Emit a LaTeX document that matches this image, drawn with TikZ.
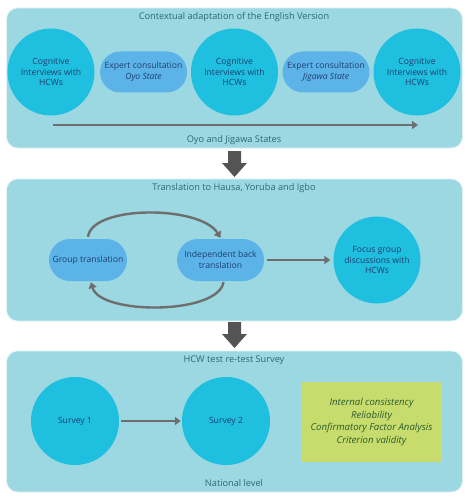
\documentclass[tikz,border=0pt]{standalone}
\usepackage{fontspec}
\setmainfont{Open Sans}
\usetikzlibrary{arrows.meta,calc,shapes.misc}
\definecolor{panelbg}{HTML}{9BD8E1}
\definecolor{circ}{HTML}{1FBFDF}
\definecolor{pill}{HTML}{5CB3E8}
\definecolor{ttl}{HTML}{2C6A74}
\definecolor{txt}{HTML}{1E3F70}
\definecolor{grn}{HTML}{C7DC6C}
\definecolor{grntxt}{HTML}{2D5C2F}
\definecolor{arr}{HTML}{6E6E6E}
\definecolor{bigarr}{HTML}{545454}
\tikzset{
  panel/.style={fill=panelbg,draw=white!70!panelbg,line width=0.8pt,rounded corners=11pt},
  ttltext/.style={text=ttl,font=\fontsize{9.2}{11}\selectfont},
  circnode/.style={circle,fill=circ,minimum size=87pt,inner sep=0pt,align=center,text=txt,font=\fontsize{8.6}{10.6}\selectfont},
  pillnode/.style={rounded rectangle,fill=pill,minimum width=89pt,minimum height=41pt,inner sep=1pt,align=center,text=txt,font=\fontsize{8.6}{10.6}\selectfont},
  conn/.style={draw=arr,line width=1.6pt,-{Triangle[length=6pt,width=8pt]}},
  curv/.style={draw=arr,line width=2.4pt,-{Triangle[length=6pt,width=8pt]}},
  bigarrow/.style={fill=bigarr,draw=none}
}
\begin{document}
\begin{tikzpicture}[x=1pt,y=-1pt]
\useasboundingbox (0,0) rectangle (467,500);
% panel 1
\node[panel,minimum width=456pt,minimum height=140pt,inner sep=0pt] (p1) at (234.5,78) {};
\node[ttltext] (t1) at (234,17) {Contextual adaptation of the English Version};
\node[circnode] (c1) at (51,72) {Cognitive\\Interviews with\\HCWs};
\node[pillnode] (e1) at (143.5,72) {Expert consultation\\\textit{Oyo State}};
\node[circnode] (c2) at (234.5,72) {Cognitive\\Interviews with\\HCWs};
\node[pillnode] (e2) at (326,72) {Expert consultation\\\textit{Jigawa State}};
\node[circnode] (c3) at (417,72) {Cognitive\\Interviews with\\HCWs};
\coordinate (a1s) at (53,125);
\coordinate (a1e) at (418,125);
\draw[conn,line width=1.3pt] (a1s) -- (a1e);
\node[ttltext] (b1) at (234,140) {Oyo and Jigawa States};
% big arrow 1
\fill[bigarrow] (228,151) -- (241,151) -- (241,163) -- (247,163) -- (234.5,177) -- (222,163) -- (228,163) -- cycle;
% panel 2
\node[panel,minimum width=456pt,minimum height=142pt,inner sep=0pt] (p2) at (234.5,250) {};
\node[ttltext] (t2) at (234,188) {Translation to Hausa, Yoruba and Igbo};
\node[pillnode,minimum width=80pt,minimum height=42pt] (g) at (88,260) {Group translation};
\node[pillnode,minimum height=42pt] (ib) at (220.5,260) {Independent back\\translation};
\node[circnode] (fg) at (377,260) {Focus group\\discussions with\\HCWs};
\draw[curv] ($(g.north)+(0,-2)$) .. controls (92,205) and (200,205) .. ($(ib.north)+(0,-1)$);
\draw[curv] ($(ib.south)+(3,1)$) .. controls (218,315) and (100,315) .. ($(g.south)+(3,1)$);
\draw[conn] (ib.east)++(3,0) -- ($(fg.west)+(-3,0)$);
% big arrow 2
\fill[bigarrow] (228,322) -- (241,322) -- (241,334) -- (247,334) -- (234.5,348) -- (222,334) -- (228,334) -- cycle;
% panel 3
\node[panel,minimum width=456pt,minimum height=141pt,inner sep=0pt] (p3) at (234.5,421.5) {};
\node[ttltext] (t3) at (234,360) {HCW test re-test Survey};
\node[circnode,minimum size=88pt] (s1) at (75,421) {Survey 1};
\node[circnode,minimum size=88pt] (s2) at (226,421) {Survey 2};
\draw[conn] ($(s1.east)+(2,0)$) -- ($(s2.west)+(-1,0)$);
\node[fill=grn,minimum width=141pt,minimum height=80pt,inner sep=0pt,align=center,text=grntxt,font=\fontsize{9.6}{12.4}\selectfont\itshape] (gb) at (371.5,422) {Internal consistency\\Reliability\\Confirmatory Factor Analysis\\Criterion validity};
\node[ttltext] (b3) at (234,483) {National level};
\end{tikzpicture}
\end{document}
